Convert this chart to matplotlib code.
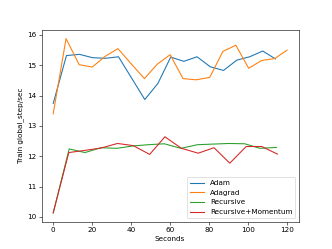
import matplotlib
matplotlib.use("Agg")
import matplotlib.pyplot as plt

adam_x = [0, 6.8, 13.5, 20.2, 26.8, 33.5, 40.2, 47, 53.7, 60.3, 67, 73.8,
          80.6, 87.4, 94.2, 100.8, 107.5, 114]
adam_y = [13.74, 15.32, 15.36, 15.25, 15.23, 15.28, 14.58, 13.87, 14.40, 15.27,
          15.13, 15.28, 14.95, 14.83, 15.17, 15.28, 15.47, 15.21]

adagrad_x = [0, 6.6, 13.3, 20, 26.6, 33.2, 40, 46.8, 53.3, 60, 66.6, 73.3,
             80.3, 87.1, 93.7, 100.3, 107, 113.6, 120]
adagrad_y = [13.40, 15.88, 15.02, 14.94, 15.29, 15.55, 15.05, 14.56, 15.03, 15.35,
             14.56, 14.52, 14.60, 15.46, 15.66, 14.90, 15.16, 15.22, 15.50]

rec_x = [0, 8.2, 16.3, 24.5, 32.7, 41, 49, 57, 65.5, 74, 82, 90, 98.3, 106, 114.5]
rec_y = [10.13, 12.24, 12.12, 12.28, 12.26, 12.34, 12.38, 12.41, 12.26, 12.38,
         12.40, 12.42, 12.41, 12.26, 12.29]

mom_x = [0, 8, 16, 24.5, 33, 41, 49.5, 57.3, 65.8, 74.4, 82.5, 90.6, 99, 107, 115]
mom_y = [10.13, 12.12, 12.19, 12.27, 12.42, 12.35, 12.06, 12.64, 12.26, 12.10,
         12.28, 11.77, 12.32, 12.32, 12.07]

fig, ax = plt.subplots(figsize=(6.4, 4.8), dpi=51.875)
ax.plot(adam_x, adam_y, label='Adam')
ax.plot(adagrad_x, adagrad_y, label='Adagrad')
ax.plot(rec_x, rec_y, label='Recursive')
ax.plot(mom_x, mom_y, label='Recursive+Momentum')

ax.set_xlabel('Seconds')
ax.set_ylabel('Train global_step/sec')
ax.legend(loc='lower right')

plt.savefig('out.png', dpi=51.875)
